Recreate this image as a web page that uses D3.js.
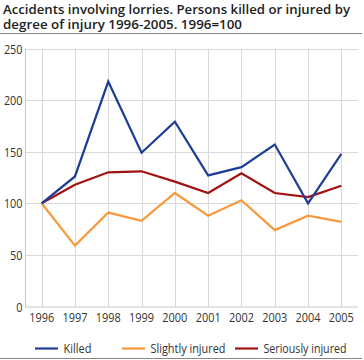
<!DOCTYPE html>
<html><head><meta charset="utf-8">
<script src="https://cdn.jsdelivr.net/npm/d3@7"></script>
<style>body{margin:0;background:#fff}svg{display:block}</style>
</head><body>
<svg id="c" width="364" height="360"></svg>
<script>
const years = ["1996","1997","1998","1999","2000","2001","2002","2003","2004","2005"];
const killed = [100,126,218,149,179,127,135,157,100,148];
const slightlyInjured = [100,59,91,83,110,88,103,74,88,82];
const seriouslyInjured = [100,118,130,131,121,110,129,110,106,117];
const yTicks = [0,50,100,150,200,250];
const titleLines = ["Accidents involving lorries. Persons killed or injured by","degree of injury 1996-2005. 1996=100"];

const series = [
  {name:"Killed", values:killed, color:"#1f3d96"},
  {name:"Slightly injured", values:slightlyInjured, color:"#f7993a"},
  {name:"Seriously injured", values:seriouslyInjured, color:"#a11212"}
];

const svg = d3.select("#c");
const font = "'Open Sans', 'DejaVu Sans', sans-serif";
const L=25, R=358, T=48.5, B=306.5;

const titleW=[347,239];
svg.selectAll("text.title").data(titleLines).join("text")
  .attr("class","title")
  .attr("x",3).attr("y",(d,i)=>13.5+i*15)
  .attr("font-family",font).attr("font-weight",600).attr("font-size",12.6)
  .attr("textLength",(d,i)=>titleW[i]).attr("lengthAdjust","spacingAndGlyphs")
  .attr("fill","#222").text(d=>d);
svg.append("line").attr("x1",0).attr("x2",362).attr("y1",33.5).attr("y2",33.5)
  .attr("stroke","#888").attr("stroke-width",1);

const x = d3.scaleBand().domain(years).range([L,R]);
const y = d3.scaleLinear().domain([0,250]).range([B,T]);

// grid
const g = svg.append("g");
g.selectAll("line.h").data(yTicks.filter(d=>d>0)).join("line")
  .attr("x1",L).attr("x2",R).attr("y1",d=>Math.round(y(d))+0.5).attr("y2",d=>Math.round(y(d))+0.5)
  .attr("stroke","#d9d9d9");
g.selectAll("line.v").data(years).join("line")
  .attr("x1",d=>Math.round(x(d)+x.bandwidth()/2)+0.5).attr("x2",d=>Math.round(x(d)+x.bandwidth()/2)+0.5)
  .attr("y1",T).attr("y2",B).attr("stroke","#d9d9d9");
// axes lines
svg.append("line").attr("x1",L+0.5).attr("x2",L+0.5).attr("y1",T).attr("y2",B+0.5).attr("stroke","#c8c8c8");
svg.append("line").attr("x1",L).attr("x2",R).attr("y1",B+0.5).attr("y2",B+0.5).attr("stroke","#c8c8c8");

// tick labels
svg.selectAll("text.yt").data(yTicks).join("text")
  .attr("x",22.5).attr("y",d=>y(d)+5).attr("text-anchor","end")
  .attr("font-family",font).attr("font-size",13.5).attr("fill","#333")
  .attr("textLength",d=>String(d).length*6.2).attr("lengthAdjust","spacingAndGlyphs")
  .text(d=>d);
svg.selectAll("text.xt").data(years).join("text")
  .attr("x",d=>x(d)+x.bandwidth()/2).attr("y",321.5).attr("text-anchor","middle")
  .attr("font-family",font).attr("font-size",13.5).attr("fill","#333")
  .attr("textLength",25).attr("lengthAdjust","spacingAndGlyphs")
  .text(d=>d);

// lines
const line = d3.line().x((d,i)=>x(years[i])+x.bandwidth()/2).y(d=>y(d));
[series[2],series[1],series[0]].forEach(s=>{
  svg.append("path").attr("d",line(s.values)).attr("fill","none")
    .attr("stroke",s.color).attr("stroke-width",2.2).attr("stroke-linejoin","miter");
});

// legend
const legX=[35,122,235];
const legW=[28,75,83];
series.forEach((s,i)=>{
  svg.append("line").attr("x1",legX[i]).attr("x2",legX[i]+23).attr("y1",348.5).attr("y2",348.5)
    .attr("stroke",s.color).attr("stroke-width",2.2);
  svg.append("text").attr("x",legX[i]+28.5).attr("y",352.5).attr("font-family",font)
    .attr("font-size",12.5).attr("fill","#333")
    .attr("textLength",legW[i]).attr("lengthAdjust","spacingAndGlyphs")
    .text(s.name);
});
svg.append("line").attr("x1",0).attr("x2",362).attr("y1",358.5).attr("y2",358.5).attr("stroke","#888");
</script>
</body></html>
